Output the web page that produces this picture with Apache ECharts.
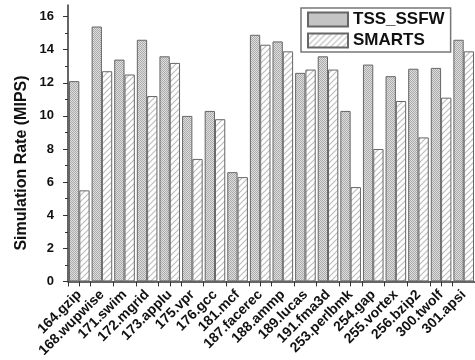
<!DOCTYPE html>
<html>
<head>
<meta charset="utf-8">
<script src="https://cdn.jsdelivr.net/npm/echarts@6/dist/echarts.min.js"></script>
<style>
  html, body { margin: 0; padding: 0; background: #fff; }
  #chart { width: 475px; height: 360px; }
</style>
</head>
<body>
<div id="chart"></div>
<script>
// Benchmarks (SPEC CPU2000)
const categories = ['164.gzip', '168.wupwise', '171.swim', '172.mgrid', '173.applu', '175.vpr',
  '176.gcc', '181.mcf', '187.facerec', '188.ammp', '189.lucas', '191.fma3d', '253.perlbmk',
  '254.gap', '255.vortex', '256.bzip2', '300.twolf', '301.apsi'];

// Simulation rate in MIPS
const tssSsfw = [12.1, 15.4, 13.4, 14.6, 13.6, 10.0, 10.3, 6.6, 14.9, 14.5, 12.6, 13.6, 10.3, 13.1, 12.4, 12.85, 12.9, 14.6];
const smarts  = [5.5, 12.7, 12.5, 11.2, 13.2, 7.4, 9.8, 6.3, 14.3, 13.9, 12.8, 12.8, 5.7, 8.0, 10.9, 8.7, 11.1, 13.9];

// Y axis tick values
const yMajorTicks = [0, 2, 4, 6, 8, 10, 12, 14, 16];
const yMinorTicks = [1, 3, 5, 7, 9, 11, 13, 15];

const FONT = "'Liberation Sans', Arial, sans-serif";

// Fine stipple fill
function stipplePattern() {
  const c = document.createElement('canvas');
  c.width = 2; c.height = 2;
  const g = c.getContext('2d');
  g.fillStyle = '#dedede'; g.fillRect(0, 0, 2, 2);
  g.fillStyle = '#ababab'; g.fillRect(0, 0, 1, 1); g.fillRect(1, 1, 1, 1);
  return c;
}
// Diagonal hatch fill
function hatchPattern() {
  const s = 6;
  const c = document.createElement('canvas');
  c.width = s; c.height = s;
  const g = c.getContext('2d');
  g.fillStyle = '#ffffff'; g.fillRect(0, 0, s, s);
  g.strokeStyle = '#bdbdbd'; g.lineWidth = 1.2;
  g.beginPath();
  g.moveTo(0, s); g.lineTo(s, 0);
  g.moveTo(-1, 1); g.lineTo(1, -1);
  g.moveTo(s - 1, s + 1); g.lineTo(s + 1, s - 1);
  g.stroke();
  return c;
}

const chart = echarts.init(document.getElementById('chart'), null, { renderer: 'canvas' });

const axisColor = '#333';
const barBorder = '#666';

chart.setOption({
  animation: false,
  backgroundColor: '#fff',
  textStyle: { fontFamily: FONT },
  grid: { left: 68, right: 0, top: 5, bottom: 66.7 },
  legend: {
    orient: 'vertical',
    left: 301, top: 8,
    padding: [3, 6, 3, 6],
    itemGap: 4,
    itemWidth: 40, itemHeight: 14,
    icon: 'rect',
    borderColor: '#777', borderWidth: 1.5,
    backgroundColor: '#fff',
    textStyle: { fontFamily: FONT, fontWeight: 'bold', fontSize: 17, color: '#111' },
    data: ['TSS_SSFW', 'SMARTS']
  },
  xAxis: [{
    type: 'category',
    data: categories,
    position: 'bottom',
    axisLine: { lineStyle: { color: axisColor, width: 1.5 } },
    axisTick: { show: true, length: 5, lineStyle: { color: axisColor, width: 1 } },
    axisLabel: {
      rotate: 45, margin: 11, interval: 0,
      fontFamily: FONT, fontWeight: 'bold', fontSize: 14, color: '#111'
    }
  }, {
    type: 'category',
    data: categories,
    position: 'bottom',
    axisLine: { show: false },
    axisTick: { show: true, alignWithLabel: true, length: 5, lineStyle: { color: axisColor, width: 1 } },
    axisLabel: { show: false }
  }],
  yAxis: [{
    type: 'value',
    position: 'left',
    min: 0, max: 16.7,
    splitLine: { show: false },
    axisLine: { show: true, lineStyle: { color: axisColor, width: 1.5 } },
    axisTick: { show: true, length: 5, customValues: yMajorTicks, lineStyle: { color: axisColor, width: 1 } },
    axisLabel: {
      customValues: yMajorTicks, margin: 14,
      fontFamily: FONT, fontWeight: 'bold', fontSize: 13, color: '#111'
    }
  }, {
    type: 'value',
    position: 'left',
    min: 0, max: 16.7,
    splitLine: { show: false },
    axisLine: { show: false },
    axisTick: { show: true, length: 3, customValues: yMinorTicks, lineStyle: { color: axisColor, width: 1 } },
    axisLabel: { show: false }
  }],
  graphic: [{
    type: 'text',
    x: 22, y: 163,
    rotation: Math.PI / 2,
    style: {
      text: 'Simulation Rate (MIPS)',
      font: "bold 16px " + FONT,
      fill: '#111',
      textAlign: 'center',
      textVerticalAlign: 'middle'
    }
  }],
  series: [{
    name: 'TSS_SSFW',
    type: 'bar',
    xAxisIndex: 0, yAxisIndex: 0,
    data: tssSsfw,
    barWidth: 10.3,
    barGap: '0%',
    itemStyle: {
      color: { image: stipplePattern(), repeat: 'repeat' },
      borderColor: barBorder, borderWidth: 1
    }
  }, {
    name: 'SMARTS',
    type: 'bar',
    xAxisIndex: 0, yAxisIndex: 0,
    data: smarts,
    barWidth: 10.3,
    barGap: '0%',
    itemStyle: {
      color: { image: hatchPattern(), repeat: 'repeat' },
      borderColor: barBorder, borderWidth: 1
    }
  }]
});
</script>
</body>
</html>
